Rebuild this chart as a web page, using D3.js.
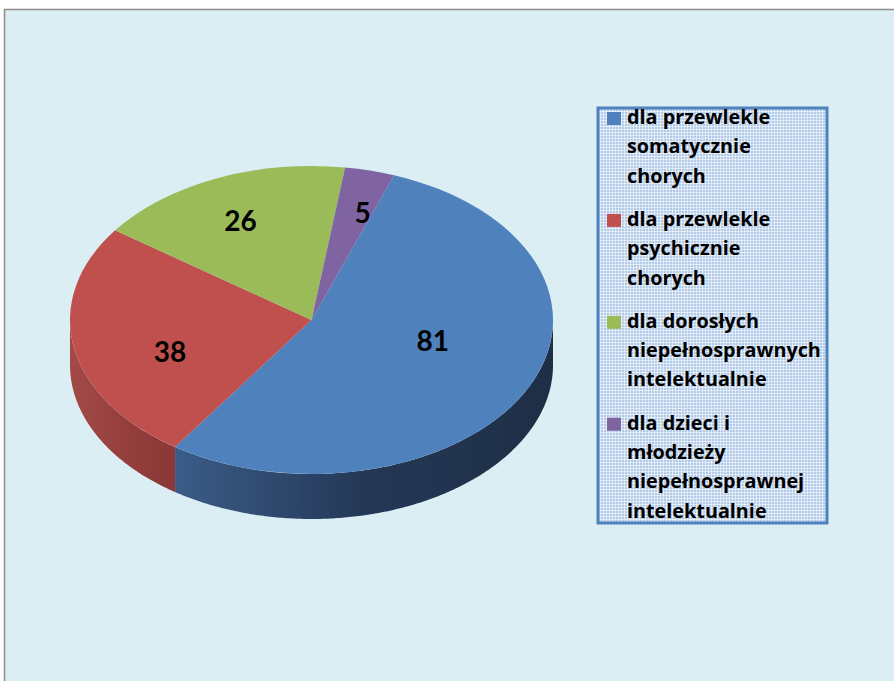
<!DOCTYPE html>
<html>
<head>
<meta charset="utf-8">
<script src="https://cdn.jsdelivr.net/npm/d3@7"></script>
<style>
  html, body { margin: 0; padding: 0; background: #fff; }
  svg { display: block; }
</style>
</head>
<body>
<svg width="894" height="681"></svg>
<script>
const categories = [
    ["dla przewlekle", "somatycznie", "chorych"],
    ["dla przewlekle", "psychicznie", "chorych"],
    ["dla dorosłych", "niepełnosprawnych", "intelektualnie"],
    ["dla dzieci i", "młodzieży", "niepełnosprawnej", "intelektualnie"]
];
const values = [81, 38, 26, 5];
const colors = ["#4f81bd", "#c0504d", "#9bbb59", "#8064a2"];
const wallColors = [
    ["#3a5c88", "#243856", "#1e2e45"],
    ["#a34a47", "#953f3d", "#8a3735"],
    ["#7d9846", "#6f883e", "#627838"],
    ["#6a5388", "#5e4a79", "#52406a"]
];
// label nudges (Excel places 3D labels a bit off the flat centroid)
const labelShift = [[-12, -24], [6, 14], [-12, -12], [15, -15]];

const svg = d3.select("svg");
const width = +svg.attr("width");
const height = +svg.attr("height");

// chart area frame
svg.append("rect")
    .attr("x", 4.5).attr("y", 9.5)
    .attr("width", width + 10).attr("height", height + 10)
    .attr("fill", "#dbeef4")
    .attr("stroke", "#8c8c8c")
    .attr("stroke-width", 1.5);

const defs = svg.append("defs");

const cx = 311.5, cy = 320, rx = 241.5, ry = 154, depth = 45;
const startA = 20 * Math.PI / 180;

const pie = d3.pie().sort(null).startAngle(startA).endAngle(startA + 2 * Math.PI);
const arcs = pie(values);

// side walls (front half only)
const pt = (a, dy) => [cx + rx * Math.sin(a), cy - ry * Math.cos(a) + dy];
const line = d3.line();

arcs.forEach((d, i) => {
    [[Math.PI / 2, 3 * Math.PI / 2], [2.5 * Math.PI, 3.5 * Math.PI]].forEach(([lo, hi]) => {
        const a0 = Math.max(d.startAngle, lo);
        const a1 = Math.min(d.endAngle, hi);
        if (a1 <= a0) return;
        const n = Math.max(4, Math.ceil((a1 - a0) / 0.01));
        const steps = d3.range(n + 1).map(k => a0 + (a1 - a0) * k / n);
        const top = steps.map(a => pt(a, 0));
        const bottom = steps.slice().reverse().map(a => pt(a, depth));

        const gid = "wall" + i + "_" + lo.toFixed(1).replace(".", "");
        const grad = defs.append("linearGradient")
            .attr("id", gid)
            .attr("x1", 0).attr("y1", 0).attr("x2", 1).attr("y2", 0);
        grad.selectAll("stop")
            .data(wallColors[i])
            .join("stop")
            .attr("offset", (c, k) => k / (wallColors[i].length - 1))
            .attr("stop-color", c => c);

        svg.append("path")
            .attr("d", line(top.concat(bottom)) + "Z")
            .attr("fill", `url(#${gid})`);
    });
});

// top surface
const arc = d3.arc().innerRadius(0).outerRadius(rx);
svg.append("g")
    .attr("transform", `translate(${cx},${cy}) scale(1,${ry / rx})`)
    .selectAll("path")
    .data(arcs)
    .join("path")
    .attr("d", arc)
    .attr("fill", (d, i) => colors[i]);

// value labels
const labelArc = d3.arc().innerRadius(rx * 0.62).outerRadius(rx * 0.62);
svg.append("g")
    .selectAll("text")
    .data(arcs)
    .join("text")
    .attr("x", (d, i) => cx + labelArc.centroid(d)[0] + labelShift[i][0])
    .attr("y", (d, i) => cy + labelArc.centroid(d)[1] * ry / rx + labelShift[i][1])
    .attr("text-anchor", "middle")
    .attr("dominant-baseline", "central")
    .attr("font-family", "Lato, 'Open Sans', sans-serif")
    .attr("font-weight", "bold")
    .attr("font-size", 28)
    .attr("fill", "#000")
    .text(d => d.data);

// legend
const pat = defs.append("pattern")
    .attr("id", "legPat")
    .attr("patternUnits", "userSpaceOnUse")
    .attr("width", 3).attr("height", 3);
pat.append("rect").attr("width", 3).attr("height", 3).attr("fill", "#b3cbe8");
pat.append("rect").attr("width", 3).attr("height", 1).attr("fill", "#fff").attr("opacity", 0.55);
pat.append("rect").attr("width", 1).attr("height", 3).attr("fill", "#fff").attr("opacity", 0.55);

const legX = 598, legY = 108, legW = 229, legH = 415;
const legend = svg.append("g");
legend.append("rect")
    .attr("x", legX).attr("y", legY)
    .attr("width", legW).attr("height", legH)
    .attr("fill", "url(#legPat)")
    .attr("stroke", "#4f81bd")
    .attr("stroke-width", 3);

const lineH = 29.3, groupGap = 14;
let baseY = 124;
categories.forEach((lines, i) => {
    legend.append("rect")
        .attr("x", 607).attr("y", baseY - 12)
        .attr("width", 14).attr("height", 13)
        .attr("fill", colors[i]);
    lines.forEach((t, k) => {
        legend.append("text")
            .attr("x", 627)
            .attr("y", baseY + k * lineH)
            .attr("font-family", "'Open Sans', Lato, sans-serif")
            .attr("font-weight", "bold")
            .attr("font-size", 19.8)
            .attr("fill", "#000")
            .text(t);
    });
    baseY += lines.length * lineH + groupGap;
});
</script>
</body>
</html>
